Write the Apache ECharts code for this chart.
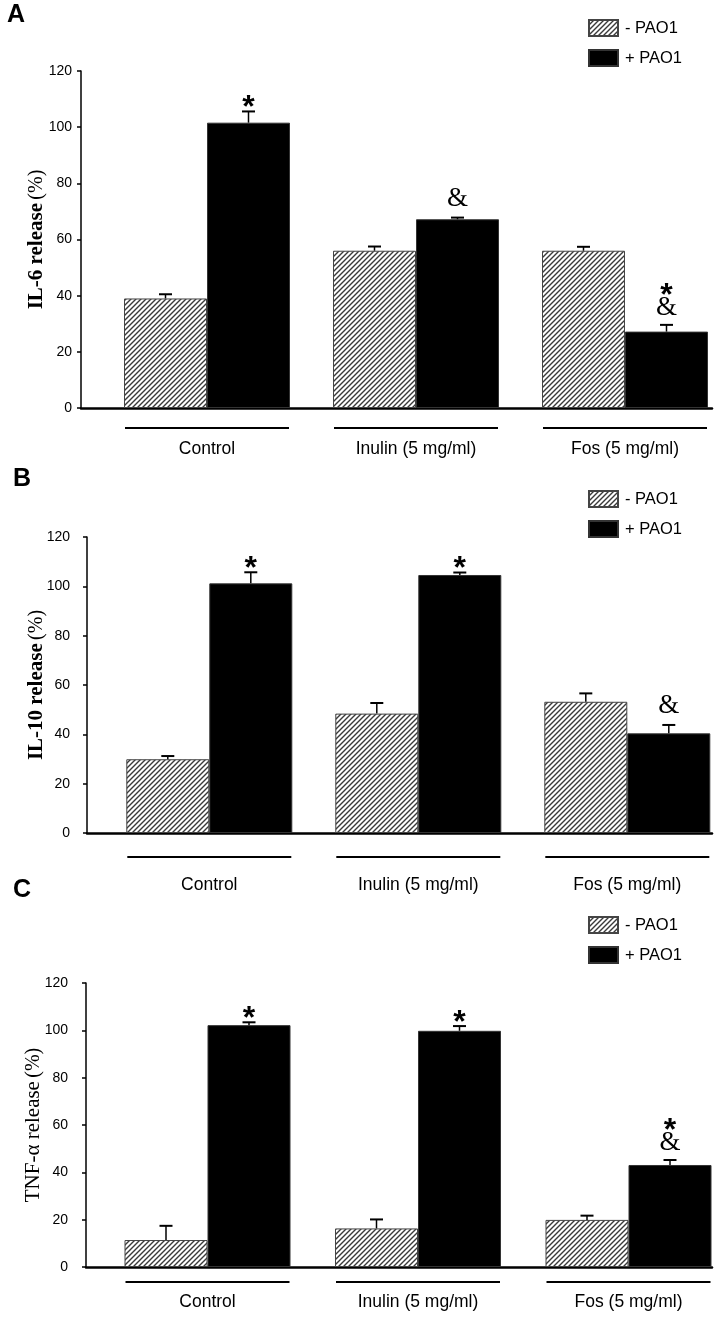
<!DOCTYPE html>
<html><head><meta charset="utf-8">
<script src="https://cdn.jsdelivr.net/npm/echarts@6/dist/echarts.min.js"></script>
<style>html,body{margin:0;padding:0;background:#fff}#c{width:717px;height:1318px}</style>
</head><body><div id="c"></div>
<script>
// ---------- data ----------
const categories = ['Control', 'Inulin (5 mg/ml)', 'Fos (5 mg/ml)'];
const seriesNames = ['- PAO1', '+ PAO1'];
const yTickLabels = ['0', '20', '40', '60', '80', '100', '120'];

const il6Minus     = [39.0, 56.0, 56.0];
const il6MinusErr  = [1.5, 1.5, 1.4];
const il6Plus      = [101.6, 67.2, 27.2];
const il6PlusErr   = [4.0, 0.6, 2.4];
const il6Marks     = ['*', '&', '*&'];

const il10Minus    = [29.9, 48.4, 53.2];
const il10MinusErr = [1.3, 4.3, 3.4];
const il10Plus     = [101.2, 104.6, 40.4];
const il10PlusErr  = [4.5, 1.0, 3.4];
const il10Marks    = ['*', '*', '&'];

const tnfMinus     = [11.4, 16.3, 19.9];
const tnfMinusErr  = [6.0, 3.8, 1.8];
const tnfPlus      = [102.2, 99.8, 43.1];
const tnfPlusErr   = [1.2, 2.0, 2.1];
const tnfMarks     = ['*', '*', '*&'];

const panelLetters = ['A', 'B', 'C'];
const panelNames = [
  ['IL-6 release', '(%)'],
  ['IL-10 release', '(%)'],
  ['TNF-\u03b1 release', '(%)']
];

// ---------- layout / style ----------
// barLeft / barSpan: pixel span between first and last group centres
const layout = [
  {top: 71, height: 337, axisLeft: 81, axisWidth: 631, barLeft: 207, barSpan: 418, legendTop: 19, letterTop: 3, letterLeft: 7,
   nameGap: 34, tickMargin: 9, tickShift: 3, labelMargin: 32, underGap: 20, bold: true},
  {top: 537, height: 296, axisLeft: 87, axisWidth: 625, barLeft: 209.3, barSpan: 418, legendTop: 490, letterTop: 467, letterLeft: 13,
   nameGap: 40, tickMargin: 17, tickShift: 8, labelMargin: 43, underGap: 24, bold: true},
  {top: 983, height: 284, axisLeft: 86, axisWidth: 626, barLeft: 207.5, barSpan: 421, legendTop: 916, letterTop: 878, letterLeft: 13,
   nameGap: 42, tickMargin: 18, tickShift: 7, labelMargin: 26, underGap: 15, bold: false}
];
const BAR_W = 83;
const SANS = 'Liberation Sans, Arial, sans-serif';
const SERIF = 'Liberation Serif, Times New Roman, serif';

function hatchCanvas() {
  const s = 5;
  const c = document.createElement('canvas');
  c.width = s; c.height = s;
  const g = c.getContext('2d');
  g.fillStyle = '#ffffff'; g.fillRect(0, 0, s, s);
  g.strokeStyle = '#3a3a3a'; g.lineWidth = 1.4;
  g.beginPath();
  g.moveTo(-1, s + 1); g.lineTo(s + 1, -1);
  g.moveTo(-1, 1); g.lineTo(1, -1);
  g.moveTo(s - 1, s + 1); g.lineTo(s + 1, s - 1);
  g.stroke();
  return c;
}
const hatch = {image: hatchCanvas(), repeat: 'repeat'};

const panelData = [
  {minus: il6Minus, minusErr: il6MinusErr, plus: il6Plus, plusErr: il6PlusErr, marks: il6Marks},
  {minus: il10Minus, minusErr: il10MinusErr, plus: il10Plus, plusErr: il10PlusErr, marks: il10Marks},
  {minus: tnfMinus, minusErr: tnfMinusErr, plus: tnfPlus, plusErr: tnfPlusErr, marks: tnfMarks}
];

const option = {
  animation: false,
  backgroundColor: '#fff',
  title: [], legend: [], grid: [], xAxis: [], yAxis: [], series: []
};

layout.forEach((L, p) => {
  const D = panelData[p];
  const gFrame = option.grid.length;
  option.grid.push({left: L.axisLeft, top: L.top, width: L.axisWidth, height: L.height});
  const gBars = option.grid.length;
  option.grid.push({left: L.barLeft, top: L.top, width: L.barSpan, height: L.height});

  option.title.push({text: panelLetters[p], left: L.letterLeft, top: L.letterTop, padding: 0,
    textStyle: {fontFamily: SANS, fontWeight: 'bold', fontSize: 25, color: '#000'}});

  option.legend.push({
    data: seriesNames, orient: 'vertical', left: 588, top: L.legendTop, padding: 0,
    itemWidth: 29, itemHeight: 16, itemGap: 12, icon: 'rect',
    textStyle: {fontFamily: SANS, fontSize: 16.5, color: '#000', padding: [0, 0, 0, 2]},
    selectedMode: false
  });

  // frame axes
  option.xAxis.push({gridIndex: gFrame, type: 'value', min: 0, max: 1,
    axisLine: {show: true, onZero: false, lineStyle: {color: '#000', width: 2.5}},
    axisTick: {show: false}, axisLabel: {show: false}, splitLine: {show: false}});
  option.yAxis.push({gridIndex: gFrame, type: 'value', min: 0, max: 120, interval: 20,
    axisLine: {show: true, lineStyle: {color: '#000', width: 1.5}},
    axisTick: {show: true, inside: false, length: 4, lineStyle: {color: '#000', width: 1.5}},
    splitLine: {show: false},
    axisLabel: {margin: L.tickMargin, fontFamily: SANS, fontSize: 14, color: '#000',
      verticalAlign: 'middle', padding: [0, 0, 2 * L.tickShift, 0],
      formatter: (v) => yTickLabels[Math.round(v / 20)]},
    name: '{b|' + panelNames[p][0] + '} {n|' + panelNames[p][1] + '}',
    nameLocation: 'middle', nameGap: L.nameGap, nameRotate: 90, nameMoveOverlap: false,
    nameTextStyle: {rich: {
      b: {fontFamily: SERIF, fontWeight: L.bold ? 'bold' : 'normal', fontSize: 21, color: '#000'},
      n: {fontFamily: SERIF, fontSize: 20, color: '#000'}
    }}
  });

  // bar axes (category centres at grid edges, boundaryGap false)
  const xBars = option.xAxis.length;
  option.xAxis.push({gridIndex: gBars, type: 'category', data: categories, boundaryGap: false,
    axisLine: {show: false}, axisTick: {show: false}, splitLine: {show: false},
    axisLabel: {margin: L.labelMargin, fontFamily: SANS, fontSize: 17.5, color: '#000', interval: 0}});
  const yBars = option.yAxis.length;
  option.yAxis.push({gridIndex: gBars, type: 'value', min: 0, max: 120, interval: 20, show: false});

  option.series.push({
    type: 'bar', name: seriesNames[0], xAxisIndex: xBars, yAxisIndex: yBars, clip: false,
    data: D.minus, barWidth: BAR_W, barGap: '0%',
    itemStyle: {color: hatch, borderColor: '#444', borderWidth: 1}
  });
  option.series.push({
    type: 'bar', name: seriesNames[1], xAxisIndex: xBars, yAxisIndex: yBars, clip: false,
    data: D.plus, barWidth: BAR_W, barGap: '0%',
    itemStyle: {color: '#000', borderColor: '#333', borderWidth: 1}
  });

  // error bars + significance marks
  const errData = [];
  categories.forEach((c, i) => {
    errData.push([i, D.minus[i], D.minusErr[i], -1, '']);
    errData.push([i, D.plus[i], D.plusErr[i], 1, D.marks[i]]);
  });
  option.series.push({
    type: 'custom', xAxisIndex: xBars, yAxisIndex: yBars, z: 5, silent: true, clip: false,
    dimensions: ['cat', 'val', 'err', 'side', 'mark'],
    encode: {x: 0, y: 1},
    data: errData,
    renderItem: (params, api) => {
      const cat = api.value(0), v = api.value(1), e = api.value(2), side = api.value(3);
      const mark = errData[params.dataIndex][4];
      const b = api.coord([cat, v]);
      const t = api.coord([cat, v + e]);
      const x = b[0] + side * BAR_W / 2;
      const children = [
        {type: 'line', shape: {x1: x, y1: b[1], x2: x, y2: t[1]}, style: {stroke: '#000', lineWidth: 1.5}},
        {type: 'line', shape: {x1: x - 6.5, y1: t[1], x2: x + 6.5, y2: t[1]}, style: {stroke: '#000', lineWidth: 2}}
      ];
      const hasStar = mark.indexOf('*') >= 0, hasAmp = mark.indexOf('&') >= 0;
      if (hasAmp) {
        children.push({type: 'text', x: x, y: t[1] - (hasStar ? 17 : 19),
          style: {text: '&', font: '27px ' + SERIF, fill: '#000', align: 'center', verticalAlign: 'middle'}});
      }
      if (hasStar) {
        children.push({type: 'text', x: x, y: t[1] - (hasAmp ? 37 : 11) + 8,
          style: {text: '*', font: 'bold 32px ' + SANS, fill: '#000', align: 'center', verticalAlign: 'middle'}});
      }
      return {type: 'group', children: children};
    }
  });

  // group underlines
  option.series.push({
    type: 'custom', xAxisIndex: xBars, yAxisIndex: yBars, silent: true, clip: false,
    encode: {x: 0, y: 1},
    data: categories.map((c, i) => [i, 0]),
    renderItem: (params, api) => {
      const c = api.coord([api.value(0), 0]);
      const y = c[1] + L.underGap;
      return {type: 'line', shape: {x1: c[0] - 82, y1: y, x2: c[0] + 82, y2: y},
        style: {stroke: '#000', lineWidth: 2}};
    }
  });
});

const chart = echarts.init(document.getElementById('c'), null, {renderer: 'canvas'});
chart.setOption(option);
</script>
</body></html>
